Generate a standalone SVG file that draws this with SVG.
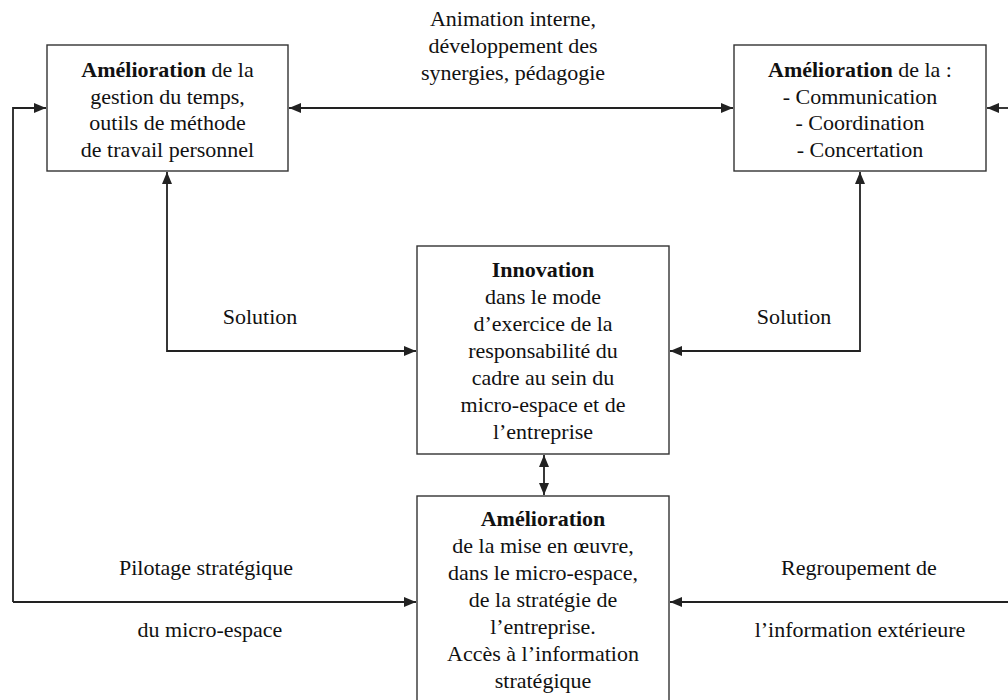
<svg xmlns="http://www.w3.org/2000/svg" width="1008" height="700" viewBox="0 0 1008 700">
<style>
text{font-family:"Liberation Serif","DejaVu Serif",serif;font-size:22px;fill:#111;text-anchor:middle}
.b{font-weight:bold}
.box{fill:#fff;stroke:#333;stroke-width:1.4}
.c{fill:none;stroke:#222;stroke-width:1.8}
</style>
<defs>
<marker id="ah" viewBox="0 0 12 10" refX="12" refY="5" markerWidth="12" markerHeight="10" markerUnits="userSpaceOnUse" orient="auto-start-reverse">
<path d="M0,0 L12,5 L0,10 Z" fill="#222"/>
</marker>
</defs>
<rect width="1008" height="700" fill="#fff"/>
<g id="connectors">
<line class="c" x1="289" y1="108" x2="733" y2="108" marker-start="url(#ah)" marker-end="url(#ah)"/>
<path class="c" d="M1008,108 L987,108" marker-end="url(#ah)"/>
<path class="c" d="M13,602 L13,108 L46,108" marker-end="url(#ah)"/>
<path class="c" d="M13,602 L416,602" marker-end="url(#ah)"/>
<path class="c" d="M1008,602 L670,602" marker-end="url(#ah)"/>
<path class="c" d="M416,351 L167,351 L167,172" marker-start="url(#ah)" marker-end="url(#ah)"/>
<path class="c" d="M670,351 L860,351 L860,172" marker-start="url(#ah)" marker-end="url(#ah)"/>
<line class="c" x1="544" y1="455" x2="544" y2="495" marker-start="url(#ah)" marker-end="url(#ah)"/>
<text x="513" y="26">Animation interne,</text>
<text x="513" y="53">développement des</text>
<text x="513" y="80">synergies, pédagogie</text>
<text x="260" y="324">Solution</text>
<text x="794" y="324">Solution</text>
<text x="206" y="575">Pilotage stratégique</text>
<text x="210" y="637">du micro-espace</text>
<text x="859" y="575">Regroupement de</text>
<text x="860" y="637">l’information extérieure</text>
</g>
<g id="n1">
<rect class="box" x="47" y="45" width="241" height="126"/>
<text x="167.5" y="77"><tspan class="b">Amélioration</tspan> de la</text>
<text x="167.5" y="104">gestion du temps,</text>
<text x="167.5" y="130">outils de méthode</text>
<text x="167.5" y="157">de travail personnel</text>
</g>
<g id="n2">
<rect class="box" x="734" y="45" width="252" height="126"/>
<text x="860" y="77"><tspan class="b">Amélioration</tspan> de la :</text>
<text x="860" y="104">- Communication</text>
<text x="860" y="130">- Coordination</text>
<text x="860" y="157">- Concertation</text>
</g>
<g id="n3">
<rect class="box" x="417" y="246" width="252" height="208"/>
<text class="b" x="543" y="277">Innovation</text>
<text x="543" y="304">dans le mode</text>
<text x="543" y="331">d’exercice de la</text>
<text x="543" y="358">responsabilité du</text>
<text x="543" y="385">cadre au sein du</text>
<text x="543" y="412">micro-espace et de</text>
<text x="543" y="439">l’entreprise</text>
</g>
<g id="n4">
<rect class="box" x="417" y="496" width="252" height="210"/>
<text class="b" x="543" y="526">Amélioration</text>
<text x="543" y="553">de la mise en œuvre,</text>
<text x="543" y="580">dans le micro-espace,</text>
<text x="543" y="607">de la stratégie de</text>
<text x="543" y="634">l’entreprise.</text>
<text x="543" y="661">Accès à l’information</text>
<text x="543" y="688">stratégique</text>
</g>
</svg>
